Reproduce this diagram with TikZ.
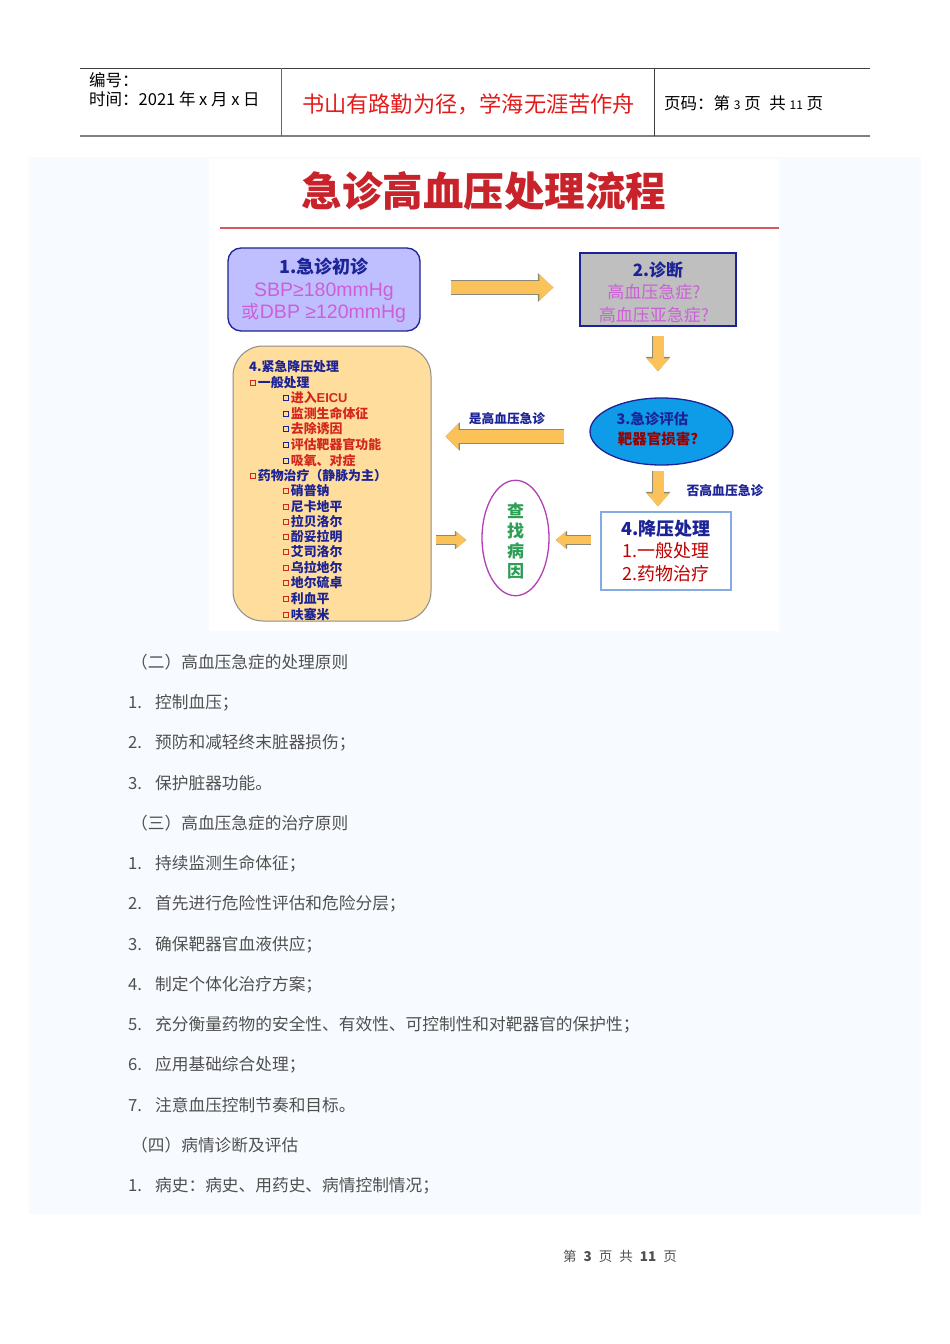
\documentclass[tikz,border=0pt]{standalone}
\usepackage{fontspec}
\setmainfont{Noto Sans CJK SC}
\newfontfamily\arialfont{Liberation Sans}
\usetikzlibrary{calc,arrows.meta,shapes.geometric}
\definecolor{panelblue}{HTML}{F7FBFF}
\definecolor{bodygray}{HTML}{505050}
\definecolor{darkblue}{HTML}{1C2396}
\definecolor{titlered}{HTML}{C8222A}
\definecolor{headred}{HTML}{E41A1A}
\definecolor{itemred}{HTML}{D4261E}
\definecolor{softpink}{HTML}{CC5FD8}
\definecolor{arrowfill}{HTML}{FBC25A}
\definecolor{arrowedge}{HTML}{8C8878}
\definecolor{skyfill}{HTML}{0E9CE8}
\definecolor{sandfill}{HTML}{FFDD9C}
\definecolor{causeedge}{HTML}{B040B4}
\definecolor{causegreen}{HTML}{2E9E55}
\definecolor{lowedge}{HTML}{84ACE0}
\newcommand{\fs}[1]{\fontsize{#1}{#1}\selectfont}
\newcommand{\listmark}[1]{\raisebox{4.5pt}{\textcolor{#1}{\fboxsep=2pt\fboxrule=1.1pt\fbox{\rule{0pt}{0pt}}}}\hspace{1.5pt}}
\tikzset{
	headtext/.style={anchor=west, inner sep=0, font=\fontsize{16.5}{16.5}\selectfont},
	bodytext/.style={anchor=west, inner sep=0, text=bodygray, text height=16pt, text depth=3pt, font=\fontsize{16.7}{18}\selectfont},
	listtext/.style={anchor=west, inner sep=0, text height=11pt, text depth=2pt, font=\fontsize{12.9}{14}\selectfont\bfseries},
	blockarrow/.style n args={2}{
		preaction={draw=arrowedge, line width=#1+1.4pt, -{Triangle[length=#2+1.4pt, width=2*#1+1.6pt]}},
		draw=arrowfill, line width=#1, -{Triangle[length=#2, width=2*#1]}
	}
}
\begin{document}
\begin{tikzpicture}[x=1pt, y=-1pt]
		\useasboundingbox (0, 0) rectangle (950, 1344);
		%%%%% PAGE HEADER %%%%%
		
		\draw[line width=0.8pt, color=black!75] (80, 68.5) -- (870, 68.5);
		\draw[line width=1.3pt, color=black!50] (80, 136) -- (870, 136);
		\draw[line width=0.8pt, color=black!60] (281, 68) -- (281, 136);
		\draw[line width=0.8pt, color=black!75] (654.5, 68) -- (654.5, 136);
		
		\node[headtext] (serial) at (89, 80) {编号：};
		\node[headtext] (datetext) at (89, 99) {时间：2021 年 x 月 x 日};
		\node[inner sep=0, text=headred, font=\fs{22.2}] (motto) at (468.5, 104) {书山有路勤为径，学海无涯苦作舟};
		\node[headtext] (pagetext) at (664, 103) {页码：第 {\fs{12}3} 页\hspace{5pt} 共 {\fs{12}11} 页};
		
		\fill[color=panelblue] (29, 157) rectangle (921, 1214);
		\fill[color=white] (209, 159) rectangle (779, 631);
		
		%%%%% FLOW CHART %%%%%
		
		\node[inner sep=0, text=titlered, font=\fs{40.5}\bfseries] (charttitle) at (484, 191) {急诊高血压处理流程};
		\draw[line width=1.6pt, color=titlered!75] (220, 228) -- (779, 228);
		
		\node[draw=darkblue, line width=1.3pt, fill=blue!25!white, rounded corners=13pt, minimum width=192, minimum height=83, inner sep=0, align=center, font=\fontsize{18}{22.5}\selectfont] (firstvisit) at (324, 289.5)
			{\rule{0pt}{18pt}\textcolor{darkblue}{\bfseries 1.急诊初诊}\\ \textcolor{softpink}{{\arialfont\fs{19.5}SBP≥180mmHg}}\\ \textcolor{softpink}{或{\arialfont\fs{19.5}DBP ≥120mmHg}}};
		\node[draw=darkblue, line width=1.3pt, fill=black!25, minimum width=156, minimum height=73, inner sep=0, align=center, font=\fontsize{17}{22.5}\selectfont] (diagnosis) at (658, 289.5)
			{\rule{0pt}{20pt}\textcolor{darkblue}{\bfseries 2.诊断}\\ \textcolor{softpink}{高血压急症?\hspace{8pt}}\\ \textcolor{softpink}{高血压亚急症?\hspace{8pt}}};
		\node[draw=darkblue, line width=1.3pt, fill=skyfill, shape=ellipse, minimum width=143, minimum height=67, inner sep=0, align=center, font=\fontsize{14.5}{20}\selectfont\bfseries] (evaluate) at (661.5, 431.5)
			{\textcolor{darkblue}{3.急诊评估\hspace{18pt}}\\ \rule[-6pt]{0pt}{6pt}\textcolor{red!60!black}{靶器官损害?\hspace{7pt}}};
		\node[draw=lowedge, line width=1.3pt, fill=white, minimum width=130, minimum height=78, inner sep=0, align=center, font=\fontsize{18}{22.5}\selectfont] (lowering) at (666, 551)
			{\textcolor{darkblue}{\bfseries 4.降压处理}\\ \textcolor{red!75!black}{1.一般处理}\\ \textcolor{red!75!black}{2.药物治疗}};
		\node[draw=causeedge, line width=1.3pt, fill=white, shape=ellipse, minimum width=67, minimum height=114, inner sep=0, align=center, text=causegreen, font=\fontsize{17}{20}\selectfont\bfseries] (findcause) at (515.5, 538)
			{\rule{0pt}{20pt}查\\找\\病\\因};
		\node[draw=black!45, line width=1pt, fill=sandfill, rounded corners=30pt, minimum width=198, minimum height=275, inner sep=0] (urgent) at (332, 483.5) {};
		
		\draw[blockarrow={13pt}{14pt}, shorten <=30pt, shorten >=26pt] ([yshift=2pt]firstvisit.east) -- ([yshift=2pt]diagnosis.west);
		\draw[blockarrow={11pt}{13pt}, shorten <=9pt, shorten >=26pt] (diagnosis.south) -- ([xshift=-3.5pt]evaluate.north);
		\draw[blockarrow={13pt}{13pt}, shorten <=25pt, shorten >=14pt] ([yshift=-5pt]evaluate.west) -- ([yshift=47pt]urgent.east);
		\draw[blockarrow={11pt}{13pt}, shorten <=5pt, shorten >=5pt] ([xshift=-3.5pt]evaluate.south) -- ([xshift=-8pt]lowering.north);
		\draw[blockarrow={8pt}{10pt}, shorten <=9pt, shorten >=6pt] ([yshift=11pt]lowering.west) -- ([yshift=-2pt]findcause.east);
		\draw[blockarrow={8pt}{10pt}, shorten <=4pt, shorten >=15pt] ([yshift=-56.5pt]urgent.east) -- ([yshift=-2pt]findcause.west);
		
		\node[inner sep=0, text=darkblue, font=\fs{12.7}\bfseries] (yeslabel) at (507, 419) {是高血压急诊};
		\node[inner sep=0, text=darkblue, font=\fs{12.8}\bfseries] (nolabel) at (725, 491) {否高血压急诊};
		
		\node[listtext, text=darkblue] (listhead) at (249, 367) {4.紧急降压处理};
		\node[listtext, text=darkblue] (general) at (250, 383) {\listmark{itemred}一般处理};
		\foreach \ypos/\txt in {398/进入{\arialfont EICU}, 414/监测生命体征, 429/去除诱因, 445/评估靶器官功能, 461/吸氧、对症}
			\node[listtext, text=itemred] (item\ypos) at (283, \ypos) {\listmark{darkblue}\txt};
		\node[listtext, text=darkblue] (drugs) at (250, 476) {\listmark{itemred}药物治疗（静脉为主）};
		\foreach \ypos/\txt in {491/硝普钠, 507/尼卡地平, 522/拉贝洛尔, 537/酚妥拉明, 552/艾司洛尔, 568/乌拉地尔, 583/地尔硫卓, 599/利血平, 615/呋塞米}
			\node[listtext, text=darkblue] (item\ypos) at (283, \ypos) {\listmark{itemred}\txt};
		
		%%%%% BODY TEXT %%%%%
		
		\foreach \ypos/\txt in {662/（二）高血压急症的处理原则, 823/（三）高血压急症的治疗原则, 1145/（四）病情诊断及评估}
			\node[bodytext] (section\ypos) at (131, \ypos) {\txt};
		\foreach \ypos/\num/\txt in {702/1/控制血压；, 742/2/预防和减轻终末脏器损伤；, 783/3/保护脏器功能。, 863/1/持续监测生命体征；, 903/2/首先进行危险性评估和危险分层；, 944/3/确保靶器官血液供应；, 984/4/制定个体化治疗方案；, 1024/5/充分衡量药物的安全性、有效性、可控制性和对靶器官的保护性；, 1064/6/应用基础综合处理；, 1105/7/注意血压控制节奏和目标。, 1185/1/病史：病史、用药史、病情控制情况；}
			\node[bodytext] (line\ypos) at (128, \ypos) {\makebox[27pt][l]{\num.}\txt};
		
		\node[anchor=west, inner sep=0, text=bodygray, font=\fs{13.5}] (pagefoot) at (563, 1256) {第\hspace{7pt}{\bfseries 3}\hspace{7pt}页\hspace{7pt}共\hspace{7pt}{\bfseries 11}\hspace{7pt}页};
		
		%%%%% END %%%%%
\end{tikzpicture}
\end{document}
